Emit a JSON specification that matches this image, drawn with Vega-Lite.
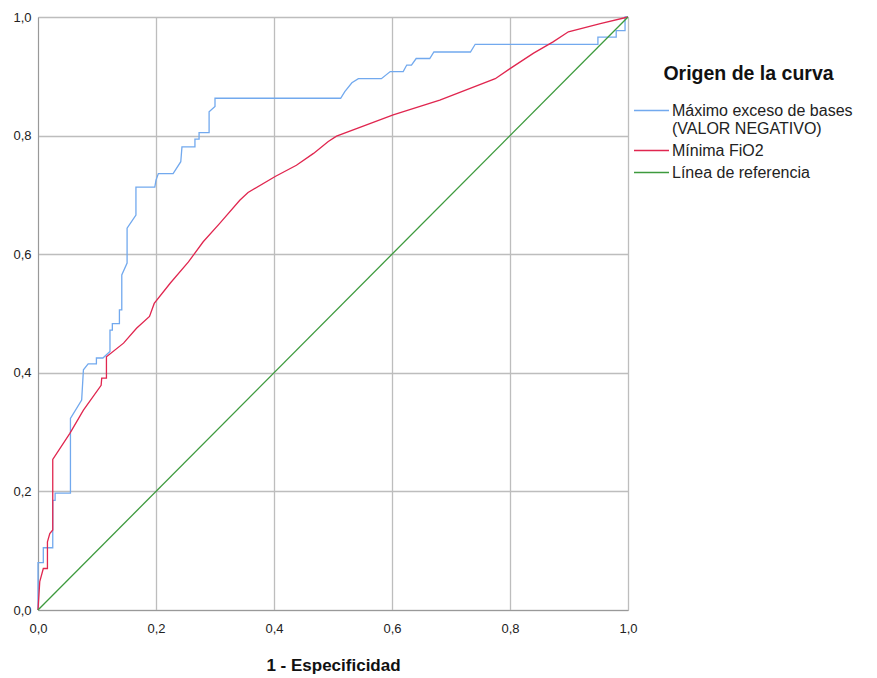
{
  "$schema": "https://vega.github.io/schema/vega-lite/v6.json",
  "width": 590,
  "height": 593,
  "autosize": "none",
  "padding": {"left": 38, "top": 17, "right": 249, "bottom": 68},
  "background": "white",
  "config": {"view": {"stroke": null}, "font": "Liberation Sans"},
  "datasets": {
    "roc": [
      {"serie": "Máximo exceso de bases (VALOR NEGATIVO)", "i": 1, "x": 0, "y": 0},
      {"serie": "Máximo exceso de bases (VALOR NEGATIVO)", "i": 2, "x": 0, "y": 0.08},
      {"serie": "Máximo exceso de bases (VALOR NEGATIVO)", "i": 3, "x": 0.009, "y": 0.08},
      {"serie": "Máximo exceso de bases (VALOR NEGATIVO)", "i": 4, "x": 0.009, "y": 0.105},
      {"serie": "Máximo exceso de bases (VALOR NEGATIVO)", "i": 5, "x": 0.025, "y": 0.105},
      {"serie": "Máximo exceso de bases (VALOR NEGATIVO)", "i": 6, "x": 0.025, "y": 0.185},
      {"serie": "Máximo exceso de bases (VALOR NEGATIVO)", "i": 7, "x": 0.029, "y": 0.185},
      {"serie": "Máximo exceso de bases (VALOR NEGATIVO)", "i": 8, "x": 0.029, "y": 0.197},
      {"serie": "Máximo exceso de bases (VALOR NEGATIVO)", "i": 9, "x": 0.055, "y": 0.197},
      {"serie": "Máximo exceso de bases (VALOR NEGATIVO)", "i": 10, "x": 0.055, "y": 0.323},
      {"serie": "Máximo exceso de bases (VALOR NEGATIVO)", "i": 11, "x": 0.074, "y": 0.354},
      {"serie": "Máximo exceso de bases (VALOR NEGATIVO)", "i": 12, "x": 0.077, "y": 0.405},
      {"serie": "Máximo exceso de bases (VALOR NEGATIVO)", "i": 13, "x": 0.085, "y": 0.415},
      {"serie": "Máximo exceso de bases (VALOR NEGATIVO)", "i": 14, "x": 0.099, "y": 0.415},
      {"serie": "Máximo exceso de bases (VALOR NEGATIVO)", "i": 15, "x": 0.099, "y": 0.425},
      {"serie": "Máximo exceso de bases (VALOR NEGATIVO)", "i": 16, "x": 0.11, "y": 0.425},
      {"serie": "Máximo exceso de bases (VALOR NEGATIVO)", "i": 17, "x": 0.122, "y": 0.436},
      {"serie": "Máximo exceso de bases (VALOR NEGATIVO)", "i": 18, "x": 0.122, "y": 0.472},
      {"serie": "Máximo exceso de bases (VALOR NEGATIVO)", "i": 19, "x": 0.126, "y": 0.472},
      {"serie": "Máximo exceso de bases (VALOR NEGATIVO)", "i": 20, "x": 0.126, "y": 0.483},
      {"serie": "Máximo exceso de bases (VALOR NEGATIVO)", "i": 21, "x": 0.138, "y": 0.483},
      {"serie": "Máximo exceso de bases (VALOR NEGATIVO)", "i": 22, "x": 0.138, "y": 0.506},
      {"serie": "Máximo exceso de bases (VALOR NEGATIVO)", "i": 23, "x": 0.142, "y": 0.506},
      {"serie": "Máximo exceso de bases (VALOR NEGATIVO)", "i": 24, "x": 0.142, "y": 0.565},
      {"serie": "Máximo exceso de bases (VALOR NEGATIVO)", "i": 25, "x": 0.151, "y": 0.585},
      {"serie": "Máximo exceso de bases (VALOR NEGATIVO)", "i": 26, "x": 0.151, "y": 0.644},
      {"serie": "Máximo exceso de bases (VALOR NEGATIVO)", "i": 27, "x": 0.166, "y": 0.666},
      {"serie": "Máximo exceso de bases (VALOR NEGATIVO)", "i": 28, "x": 0.166, "y": 0.713},
      {"serie": "Máximo exceso de bases (VALOR NEGATIVO)", "i": 29, "x": 0.198, "y": 0.713},
      {"serie": "Máximo exceso de bases (VALOR NEGATIVO)", "i": 30, "x": 0.2, "y": 0.725},
      {"serie": "Máximo exceso de bases (VALOR NEGATIVO)", "i": 31, "x": 0.204, "y": 0.736},
      {"serie": "Máximo exceso de bases (VALOR NEGATIVO)", "i": 32, "x": 0.229, "y": 0.736},
      {"serie": "Máximo exceso de bases (VALOR NEGATIVO)", "i": 33, "x": 0.242, "y": 0.756},
      {"serie": "Máximo exceso de bases (VALOR NEGATIVO)", "i": 34, "x": 0.244, "y": 0.781},
      {"serie": "Máximo exceso de bases (VALOR NEGATIVO)", "i": 35, "x": 0.266, "y": 0.781},
      {"serie": "Máximo exceso de bases (VALOR NEGATIVO)", "i": 36, "x": 0.266, "y": 0.794},
      {"serie": "Máximo exceso de bases (VALOR NEGATIVO)", "i": 37, "x": 0.273, "y": 0.794},
      {"serie": "Máximo exceso de bases (VALOR NEGATIVO)", "i": 38, "x": 0.273, "y": 0.805},
      {"serie": "Máximo exceso de bases (VALOR NEGATIVO)", "i": 39, "x": 0.29, "y": 0.805},
      {"serie": "Máximo exceso de bases (VALOR NEGATIVO)", "i": 40, "x": 0.29, "y": 0.84},
      {"serie": "Máximo exceso de bases (VALOR NEGATIVO)", "i": 41, "x": 0.3, "y": 0.849},
      {"serie": "Máximo exceso de bases (VALOR NEGATIVO)", "i": 42, "x": 0.3, "y": 0.863},
      {"serie": "Máximo exceso de bases (VALOR NEGATIVO)", "i": 43, "x": 0.513, "y": 0.863},
      {"serie": "Máximo exceso de bases (VALOR NEGATIVO)", "i": 44, "x": 0.52, "y": 0.874},
      {"serie": "Máximo exceso de bases (VALOR NEGATIVO)", "i": 45, "x": 0.532, "y": 0.889},
      {"serie": "Máximo exceso de bases (VALOR NEGATIVO)", "i": 46, "x": 0.543, "y": 0.896},
      {"serie": "Máximo exceso de bases (VALOR NEGATIVO)", "i": 47, "x": 0.582, "y": 0.896},
      {"serie": "Máximo exceso de bases (VALOR NEGATIVO)", "i": 48, "x": 0.597, "y": 0.908},
      {"serie": "Máximo exceso de bases (VALOR NEGATIVO)", "i": 49, "x": 0.619, "y": 0.908},
      {"serie": "Máximo exceso de bases (VALOR NEGATIVO)", "i": 50, "x": 0.625, "y": 0.919},
      {"serie": "Máximo exceso de bases (VALOR NEGATIVO)", "i": 51, "x": 0.633, "y": 0.919},
      {"serie": "Máximo exceso de bases (VALOR NEGATIVO)", "i": 52, "x": 0.641, "y": 0.93},
      {"serie": "Máximo exceso de bases (VALOR NEGATIVO)", "i": 53, "x": 0.664, "y": 0.93},
      {"serie": "Máximo exceso de bases (VALOR NEGATIVO)", "i": 54, "x": 0.671, "y": 0.941},
      {"serie": "Máximo exceso de bases (VALOR NEGATIVO)", "i": 55, "x": 0.733, "y": 0.941},
      {"serie": "Máximo exceso de bases (VALOR NEGATIVO)", "i": 56, "x": 0.741, "y": 0.954},
      {"serie": "Máximo exceso de bases (VALOR NEGATIVO)", "i": 57, "x": 0.949, "y": 0.954},
      {"serie": "Máximo exceso de bases (VALOR NEGATIVO)", "i": 58, "x": 0.949, "y": 0.966},
      {"serie": "Máximo exceso de bases (VALOR NEGATIVO)", "i": 59, "x": 0.98, "y": 0.966},
      {"serie": "Máximo exceso de bases (VALOR NEGATIVO)", "i": 60, "x": 0.98, "y": 0.977},
      {"serie": "Máximo exceso de bases (VALOR NEGATIVO)", "i": 61, "x": 0.995, "y": 0.977},
      {"serie": "Máximo exceso de bases (VALOR NEGATIVO)", "i": 62, "x": 0.995, "y": 1},
      {"serie": "Máximo exceso de bases (VALOR NEGATIVO)", "i": 63, "x": 1, "y": 1},
      {"serie": "Mínima FiO2", "i": 1, "x": 0, "y": 0},
      {"serie": "Mínima FiO2", "i": 2, "x": 0.003, "y": 0.048},
      {"serie": "Mínima FiO2", "i": 3, "x": 0.009, "y": 0.07},
      {"serie": "Mínima FiO2", "i": 4, "x": 0.016, "y": 0.07},
      {"serie": "Mínima FiO2", "i": 5, "x": 0.016, "y": 0.115},
      {"serie": "Mínima FiO2", "i": 6, "x": 0.02, "y": 0.129},
      {"serie": "Mínima FiO2", "i": 7, "x": 0.025, "y": 0.135},
      {"serie": "Mínima FiO2", "i": 8, "x": 0.025, "y": 0.254},
      {"serie": "Mínima FiO2", "i": 9, "x": 0.054, "y": 0.298},
      {"serie": "Mínima FiO2", "i": 10, "x": 0.077, "y": 0.337},
      {"serie": "Mínima FiO2", "i": 11, "x": 0.107, "y": 0.379},
      {"serie": "Mínima FiO2", "i": 12, "x": 0.108, "y": 0.391},
      {"serie": "Mínima FiO2", "i": 13, "x": 0.116, "y": 0.391},
      {"serie": "Mínima FiO2", "i": 14, "x": 0.116, "y": 0.427},
      {"serie": "Mínima FiO2", "i": 15, "x": 0.145, "y": 0.45},
      {"serie": "Mínima FiO2", "i": 16, "x": 0.167, "y": 0.475},
      {"serie": "Mínima FiO2", "i": 17, "x": 0.189, "y": 0.495},
      {"serie": "Mínima FiO2", "i": 18, "x": 0.197, "y": 0.517},
      {"serie": "Mínima FiO2", "i": 19, "x": 0.224, "y": 0.551},
      {"serie": "Mínima FiO2", "i": 20, "x": 0.255, "y": 0.587},
      {"serie": "Mínima FiO2", "i": 21, "x": 0.28, "y": 0.621},
      {"serie": "Mínima FiO2", "i": 22, "x": 0.308, "y": 0.652},
      {"serie": "Mínima FiO2", "i": 23, "x": 0.342, "y": 0.691},
      {"serie": "Mínima FiO2", "i": 24, "x": 0.356, "y": 0.704},
      {"serie": "Mínima FiO2", "i": 25, "x": 0.402, "y": 0.731},
      {"serie": "Mínima FiO2", "i": 26, "x": 0.438, "y": 0.75},
      {"serie": "Mínima FiO2", "i": 27, "x": 0.467, "y": 0.77},
      {"serie": "Mínima FiO2", "i": 28, "x": 0.492, "y": 0.79},
      {"serie": "Mínima FiO2", "i": 29, "x": 0.506, "y": 0.799},
      {"serie": "Mínima FiO2", "i": 30, "x": 0.602, "y": 0.835},
      {"serie": "Mínima FiO2", "i": 31, "x": 0.681, "y": 0.86},
      {"serie": "Mínima FiO2", "i": 32, "x": 0.775, "y": 0.896},
      {"serie": "Mínima FiO2", "i": 33, "x": 0.8, "y": 0.913},
      {"serie": "Mínima FiO2", "i": 34, "x": 0.84, "y": 0.939},
      {"serie": "Mínima FiO2", "i": 35, "x": 0.873, "y": 0.958},
      {"serie": "Mínima FiO2", "i": 36, "x": 0.899, "y": 0.975},
      {"serie": "Mínima FiO2", "i": 37, "x": 0.953, "y": 0.989},
      {"serie": "Mínima FiO2", "i": 38, "x": 1, "y": 1},
      {"serie": "Línea de referencia", "i": 1, "x": 0, "y": 0},
      {"serie": "Línea de referencia", "i": 2, "x": 1, "y": 1}
    ]
  },
  "data": {"name": "roc"},
  "mark": {"type": "line", "strokeWidth": 1.3},
  "encoding": {
    "x": {
      "field": "x",
      "type": "quantitative",
      "scale": {"domain": [0, 1], "nice": false, "zero": false},
      "axis": {
        "title": "1 - Especificidad",
        "values": [0, 0.2, 0.4, 0.6, 0.8, 1],
        "labelExpr": "replace(format(datum.value, '.1f'), '.', ',')",
        "labelFlush": false,
        "ticks": false,
        "labelFontSize": 13,
        "labelColor": "#222222",
        "labelPadding": 12,
        "titleFontSize": 17,
        "titleFontWeight": "bold",
        "titleColor": "#111111",
        "titlePadding": 22,
        "domainColor": "#999999",
        "gridColor": "#bdbdbd",
        "gridWidth": 1.3
      }
    },
    "y": {
      "field": "y",
      "type": "quantitative",
      "scale": {"domain": [0, 1], "nice": false, "zero": false},
      "axis": {
        "title": null,
        "values": [0, 0.2, 0.4, 0.6, 0.8, 1],
        "labelExpr": "replace(format(datum.value, '.1f'), '.', ',')",
        "labelFlush": false,
        "ticks": false,
        "labelFontSize": 13,
        "labelColor": "#222222",
        "labelPadding": 7,
        "domainColor": "#999999",
        "gridColor": "#bdbdbd",
        "gridWidth": 1.3
      }
    },
    "color": {
      "field": "serie",
      "type": "nominal",
      "scale": {
        "domain": ["Máximo exceso de bases (VALOR NEGATIVO)", "Mínima FiO2", "Línea de referencia"],
        "range": ["#72a9ee", "#e0264f", "#3d9a3d"]
      },
      "legend": {
        "title": "Origen de la curva",
        "orient": "none",
        "legendX": 605.5,
        "legendY": 48,
        "titleFontSize": 19.5,
        "titleFontWeight": "bold",
        "titleColor": "#111111",
        "titleAnchor": "middle",
        "titlePadding": 18,
        "symbolType": "M-2.5,0H2.5",
        "symbolSize": 196,
        "symbolStrokeWidth": 1.6,
        "labelFontSize": 16,
        "labelColor": "#222222",
        "labelOffset": 12.5,
        "labelLimit": 400,
        "rowPadding": 6,
        "labelExpr": "datum.label == 'Máximo exceso de bases (VALOR NEGATIVO)' ? ['Máximo exceso de bases', '(VALOR NEGATIVO)'] : datum.label"
      }
    },
    "order": {"field": "i", "type": "quantitative"}
  }
}
